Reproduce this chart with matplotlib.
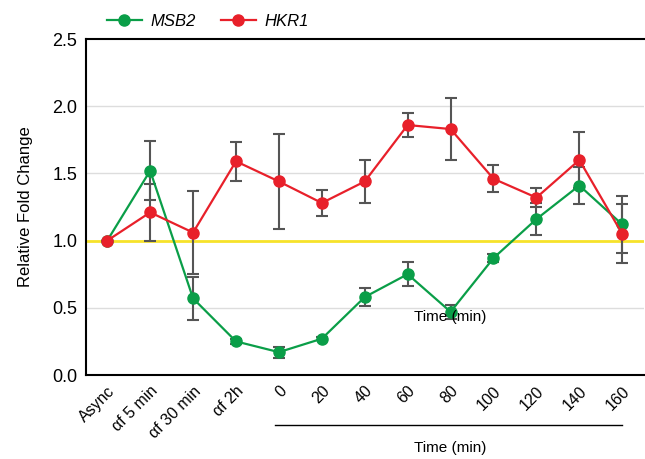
import numpy as np
import matplotlib
matplotlib.use("Agg")
from matplotlib import pyplot as plt

plt.rcParams['font.family'] = ['Liberation Sans', 'DejaVu Sans']

# Dados
labels = ["Async", "αf 5 min", "αf 30 min", "αf 2h", "0", "20", "40", "60",
          "80", "100", "120", "140", "160"]
msb2 = [1.00, 1.52, 0.57, 0.25, 0.17, 0.27, 0.58, 0.75, 0.47, 0.87, 1.16, 1.41, 1.12]
msb2Err = [0.00, 0.22, 0.16, 0.02, 0.04, 0.01, 0.07, 0.09, 0.05, 0.03, 0.12, 0.14, 0.21]
hkr1 = [1.00, 1.21, 1.06, 1.59, 1.44, 1.28, 1.44, 1.86, 1.83, 1.46, 1.32, 1.60, 1.05]
hkr1Err = [0.00, 0.21, 0.31, 0.145, 0.35, 0.10, 0.16, 0.09, 0.23, 0.10, 0.07, 0.21, 0.22]

green = "#0a9e48"
red = "#e8202a"
x = np.arange(len(labels))

fig = plt.figure(figsize=(6.45, 4.59), dpi=100)
ax = fig.add_axes([0.133, 0.183, 0.865, 0.732])

# Grade horizontal e linha de referência
for g in [0.5, 1.5, 2.0]:
    ax.axhline(g, color="#dddddd", lw=1, zorder=0)
ax.axhline(1.0, color="#f7e22a", lw=2, zorder=1)

ax.errorbar(x, msb2, yerr=msb2Err, fmt="none", ecolor="#555555", elinewidth=1.5,
            capsize=4, capthick=1.5, zorder=2)
ax.errorbar(x, hkr1, yerr=hkr1Err, fmt="none", ecolor="#555555", elinewidth=1.5,
            capsize=4, capthick=1.5, zorder=2)
ax.plot(x, msb2, "-o", color=green, lw=1.6, ms=8, label="MSB2", zorder=3)
ax.plot(x, hkr1, "-o", color=red, lw=1.6, ms=8, label="HKR1", zorder=4)

ax.set_xlim(-0.5, 12.5)
ax.set_ylim(0, 2.5)
ax.set_yticks([0, 0.5, 1.0, 1.5, 2.0, 2.5])
ax.set_yticklabels(["0.0", "0.5", "1.0", "1.5", "2.0", "2.5"], fontsize=13)
ax.set_xticks(x)
ax.set_xticklabels(labels, rotation=45, ha="right", rotation_mode="anchor", fontsize=11.5)
ax.tick_params(length=0, pad=6)
ax.set_ylabel("Relative Fold Change", fontsize=12, labelpad=14)

for s in ["left", "bottom", "top"]:
    ax.spines[s].set_linewidth(1.5)
ax.spines["right"].set_visible(False)

# Texto solto dentro do gráfico
ax.text(8, 0.43, "Time (min)", ha="center", va="center", fontsize=11)

# Linha e rótulo do tempo
fig.add_artist(plt.Line2D([275 / 645, 622 / 645], [1 - 425 / 459, 1 - 425 / 459],
                          color="black", lw=1))
fig.text(450 / 645, 1 - 448 / 459, "Time (min)", ha="center", va="center", fontsize=11)

leg = ax.legend(loc="lower left", bbox_to_anchor=(0.02, 1.0), ncol=2, frameon=False,
                prop={"style": "italic", "size": 12}, handlelength=2.1, columnspacing=1.5,
                handletextpad=0.5, borderaxespad=0.2)

plt.savefig("out.png", dpi=100)
